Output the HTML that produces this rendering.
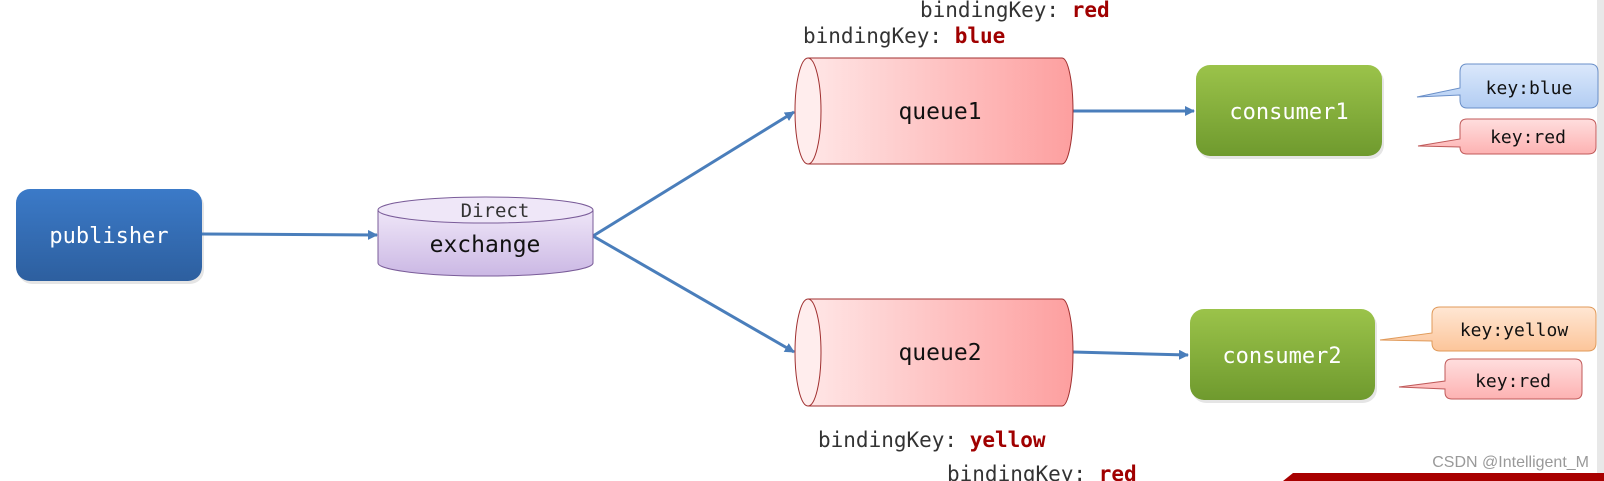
<!DOCTYPE html>
<html><head><meta charset="utf-8"><style>
html,body{margin:0;padding:0;background:#fff;}
svg{display:block;}
text{font-family:"DejaVu Sans Mono","Liberation Mono",monospace;}
</style></head><body>
<svg width="1604" height="481" viewBox="0 0 1604 481" xmlns="http://www.w3.org/2000/svg">
<defs>
<linearGradient id="pub" x1="0" y1="0" x2="0" y2="1"><stop offset="0" stop-color="#3b7ac8"/><stop offset="1" stop-color="#2d5f9f"/></linearGradient>
<linearGradient id="grn" x1="0" y1="0" x2="0" y2="1"><stop offset="0" stop-color="#9bc34a"/><stop offset="1" stop-color="#6f9a2e"/></linearGradient>
<linearGradient id="ex" x1="0" y1="0" x2="0" y2="1"><stop offset="0" stop-color="#efe6f8"/><stop offset="1" stop-color="#cbb8e4"/></linearGradient>
<linearGradient id="q" x1="0" y1="0" x2="1" y2="0"><stop offset="0" stop-color="#ffe6e6"/><stop offset="1" stop-color="#fd9f9f"/></linearGradient>
<linearGradient id="bl" x1="0" y1="0" x2="0" y2="1"><stop offset="0" stop-color="#dbe8fb"/><stop offset="1" stop-color="#b2cdf3"/></linearGradient>
<linearGradient id="rd" x1="0" y1="0" x2="0" y2="1"><stop offset="0" stop-color="#ffdede"/><stop offset="1" stop-color="#fdb2b2"/></linearGradient>
<linearGradient id="yl" x1="0" y1="0" x2="0" y2="1"><stop offset="0" stop-color="#ffe7d4"/><stop offset="1" stop-color="#fcc59a"/></linearGradient>
<marker id="ar" markerWidth="10" markerHeight="10" refX="9" refY="5" orient="auto" markerUnits="userSpaceOnUse"><path d="M0,0 L10,5 L0,10 z" fill="#4a7ebb"/></marker>
</defs>

<!-- scrollbar strip -->
<rect x="1597" y="0" width="7" height="481" fill="#e8e8e8"/>

<!-- binding labels -->
<text x="920" y="17" font-size="21" fill="#333">bindingKey: <tspan fill="#a00000" font-weight="bold">red</tspan></text>
<text x="803" y="43" font-size="21" fill="#333">bindingKey: <tspan fill="#a00000" font-weight="bold">blue</tspan></text>
<text x="818" y="447" font-size="21" fill="#333">bindingKey: <tspan fill="#a00000" font-weight="bold">yellow</tspan></text>
<text x="947" y="481" font-size="21" fill="#333">bindingKey: <tspan fill="#a00000" font-weight="bold">red</tspan></text>

<!-- publisher -->
<rect x="18" y="192" width="186" height="92" rx="14" fill="#999" opacity="0.25"/>
<rect x="16" y="189" width="186" height="92" rx="14" fill="url(#pub)"/>
<text x="109" y="243" font-size="22" fill="#fff" text-anchor="middle">publisher</text>

<!-- arrows -->
<line x1="202" y1="234" x2="377" y2="235" stroke="#4a7ebb" stroke-width="3" marker-end="url(#ar)"/>
<line x1="593" y1="236" x2="794" y2="112" stroke="#4a7ebb" stroke-width="3" marker-end="url(#ar)"/>
<line x1="593" y1="236" x2="794" y2="352" stroke="#4a7ebb" stroke-width="3" marker-end="url(#ar)"/>
<line x1="1073" y1="111" x2="1194" y2="111" stroke="#4a7ebb" stroke-width="3" marker-end="url(#ar)"/>
<line x1="1073" y1="352" x2="1188" y2="355" stroke="#4a7ebb" stroke-width="3" marker-end="url(#ar)"/>

<!-- exchange -->
<path d="M378,210 L378,263 A107.5,13 0 0 0 593,263 L593,210" fill="url(#ex)" stroke="#7a5c99" stroke-width="1"/>
<ellipse cx="485.5" cy="210" rx="107.5" ry="13" fill="#efe7f8" stroke="#7a5c99" stroke-width="1"/>
<text x="495" y="217" font-size="19" fill="#333" text-anchor="middle">Direct</text>
<text x="485" y="252" font-size="23" fill="#111" text-anchor="middle">exchange</text>

<!-- queue1 -->
<path d="M808,58 L1062,58 A11,53 0 0 1 1062,164 L808,164" fill="url(#q)" stroke="#a03030" stroke-width="1"/>
<ellipse cx="808" cy="111" rx="13" ry="53" fill="#ffeded" stroke="#a03030" stroke-width="1"/>
<text x="940" y="119" font-size="23" fill="#111" text-anchor="middle">queue1</text>

<!-- queue2 -->
<path d="M808,299 L1062,299 A11,53.5 0 0 1 1062,406 L808,406" fill="url(#q)" stroke="#a03030" stroke-width="1"/>
<ellipse cx="808" cy="352.5" rx="13" ry="53.5" fill="#ffeded" stroke="#a03030" stroke-width="1"/>
<text x="940" y="360" font-size="23" fill="#111" text-anchor="middle">queue2</text>

<!-- consumer1 -->
<rect x="1198" y="68" width="186" height="91" rx="14" fill="#999" opacity="0.25"/>
<rect x="1196" y="65" width="186" height="91" rx="14" fill="url(#grn)"/>
<text x="1289" y="119" font-size="22" fill="#fff" text-anchor="middle">consumer1</text>

<!-- consumer2 -->
<rect x="1192" y="312" width="185" height="91" rx="14" fill="#999" opacity="0.25"/>
<rect x="1190" y="309" width="185" height="91" rx="14" fill="url(#grn)"/>
<text x="1282" y="363" font-size="22" fill="#fff" text-anchor="middle">consumer2</text>

<!-- callouts -->
<path d="M1467,64 L1590,64 Q1598,64 1598,72 L1598,100 Q1598,108 1590,108 L1467,108 Q1460,108 1460,100 L1460,95 L1417,97 L1460,88 L1460,72 Q1460,64 1467,64 Z" fill="url(#bl)" stroke="#6a8fc8" stroke-width="1"/>
<text x="1529" y="94" font-size="18" fill="#111" text-anchor="middle">key:blue</text>

<path d="M1467,119 L1588,119 Q1596,119 1596,126 L1596,147 Q1596,154 1588,154 L1467,154 Q1460,154 1460,147 L1460,147 L1418,146 L1460,139 L1460,126 Q1460,119 1467,119 Z" fill="url(#rd)" stroke="#c05a5a" stroke-width="1"/>
<text x="1528" y="143" font-size="18" fill="#111" text-anchor="middle">key:red</text>

<path d="M1440,307 L1588,307 Q1596,307 1596,315 L1596,343 Q1596,351 1588,351 L1440,351 Q1432,351 1432,343 L1432,341 L1380,340 L1432,333 L1432,315 Q1432,307 1440,307 Z" fill="url(#yl)" stroke="#e09a5a" stroke-width="1"/>
<text x="1514" y="336" font-size="18" fill="#111" text-anchor="middle">key:yellow</text>

<path d="M1452,359 L1575,359 Q1582,359 1582,366 L1582,392 Q1582,399 1575,399 L1452,399 Q1445,399 1445,392 L1445,389 L1399,387 L1445,381 L1445,366 Q1445,359 1452,359 Z" fill="url(#rd)" stroke="#c05a5a" stroke-width="1"/>
<text x="1513" y="387" font-size="18" fill="#111" text-anchor="middle">key:red</text>

<!-- watermark -->
<text x="1589" y="467" font-size="16" fill="#999" text-anchor="end" style="font-family:'Liberation Sans',sans-serif">CSDN @Intelligent_M</text>
<!-- red bar -->
<path d="M1293,473 L1604,473 L1604,481 L1283,481 Z" fill="#a80000"/>
</svg>
</body></html>
